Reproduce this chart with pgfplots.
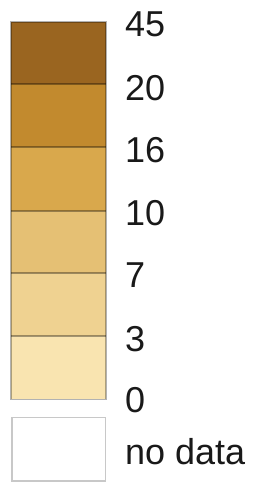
\documentclass[border=0pt]{standalone}
\usepackage{pgfplots}
\pgfplotsset{compat=1.18}
\usepackage{fontspec}
\setmainfont{Liberation Sans}
\definecolor{c1}{RGB}{154,101,32}
\definecolor{c2}{RGB}{194,138,46}
\definecolor{c3}{RGB}{217,168,76}
\definecolor{c4}{RGB}{229,192,116}
\definecolor{c5}{RGB}{239,210,145}
\definecolor{c6}{RGB}{249,228,176}
\definecolor{txt}{RGB}{25,25,25}
\definecolor{nd}{RGB}{200,200,200}
\definecolor{edge}{RGB}{150,125,90}
\begin{document}
\begin{tikzpicture}
\begin{axis}[
  width=258bp, height=484bp, scale only axis,
  xmin=0, xmax=258, ymin=0, ymax=484,
  hide axis, clip=false,
  nodes near coords style={anchor=west, inner sep=0pt, font=\fontsize{36bp}{40bp}\selectfont, text=txt},
]
\path (axis cs:0,0) rectangle (axis cs:258,484);
% bands (bottom to top)
\addplot[fill=c6, draw=none] coordinates {(11,84.7) (106,84.7) (106,147.5) (11,147.5)} -- cycle;
\addplot[fill=c5, draw=none] coordinates {(11,147.5) (106,147.5) (106,210.5) (11,210.5)} -- cycle;
\addplot[fill=c4, draw=none] coordinates {(11,210.5) (106,210.5) (106,273) (11,273)} -- cycle;
\addplot[fill=c3, draw=none] coordinates {(11,273) (106,273) (106,336.5) (11,336.5)} -- cycle;
\addplot[fill=c2, draw=none] coordinates {(11,336.5) (106,336.5) (106,399.5) (11,399.5)} -- cycle;
\addplot[fill=c1, draw=none] coordinates {(11,399.5) (106,399.5) (106,462) (11,462)} -- cycle;
% outer edge
\addplot[draw=black, draw opacity=0.3, line width=1.3bp] coordinates {(11,84.7) (106,84.7) (106,462) (11,462)} -- cycle;
% dividers
\addplot[draw=black, draw opacity=0.35, line width=2bp] coordinates {(11,147.5) (106,147.5)};
\addplot[draw=black, draw opacity=0.35, line width=2bp] coordinates {(11,210.5) (106,210.5)};
\addplot[draw=black, draw opacity=0.35, line width=2bp] coordinates {(11,273) (106,273)};
\addplot[draw=black, draw opacity=0.35, line width=2bp] coordinates {(11,336.5) (106,336.5)};
\addplot[draw=black, draw opacity=0.35, line width=2bp] coordinates {(11,399.5) (106,399.5)};
% no data box
\addplot[fill=white, draw=nd, line width=1.8bp] coordinates {(12,3) (105.5,3) (105.5,66.5) (12,66.5)} -- cycle;
% labels
\addplot[only marks, mark=none, nodes near coords, point meta=explicit symbolic]
  coordinates {(125,460) [45] (125,396) [20] (125,334) [16] (125,270.5) [10] (125,209) [7] (125,145) [3] (125,84) [0] (125,32) [no data]};
\end{axis}
\end{tikzpicture}
\end{document}
